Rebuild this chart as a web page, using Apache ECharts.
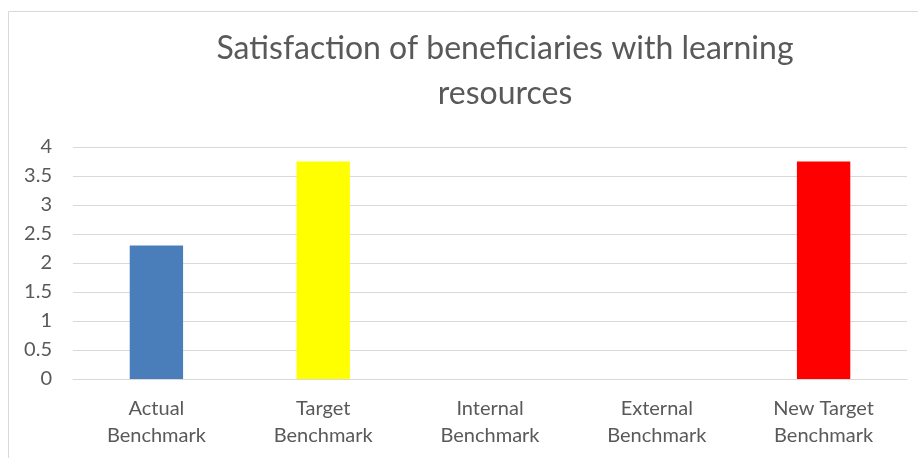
<!DOCTYPE html>
<html>
<head>
<meta charset="utf-8">
<script src="https://cdn.jsdelivr.net/npm/echarts@6/dist/echarts.min.js"></script>
<style>
  html, body { margin: 0; padding: 0; background: #fff; }
  #main { width: 918px; height: 458px; }
</style>
</head>
<body>
<div id="main"></div>
<script>
var categories = ['Actual\nBenchmark', 'Target\nBenchmark', 'Internal\nBenchmark', 'External\nBenchmark', 'New Target\nBenchmark']
var values = [2.3, 3.75, 0, 0, 3.75]
var barColors = ['#4a7ebb', '#ffff00', '#4a7ebb', '#4a7ebb', '#ff0000']
var yTicks = [0, 0.5, 1, 1.5, 2, 2.5, 3, 3.5, 4]

var myChart = echarts.init(document.getElementById('main'))

var option = {
    backgroundColor: '#fff',
    animation: false,
    title: {
        text: 'Satisfaction of beneficiaries with learning\nresources',
        left: 500,
        top: 21,
        textAlign: 'center',
        textStyle: {
            fontFamily: 'Lato',
            fontWeight: 'normal',
            fontSize: 32,
            lineHeight: 45,
            color: '#595959'
        }
    },
    graphic: [{
        type: 'rect',
        shape: { x: 8.5, y: 11.5, width: 1000, height: 500 },
        style: { fill: 'none', stroke: '#d9d9d9', lineWidth: 1 },
        silent: true
    }],
    grid: { left: 73, right: 11, top: 147, bottom: 79 },
    xAxis: {
        type: 'category',
        data: categories,
        axisLine: { show: true, lineStyle: { color: '#d9d9d9' } },
        axisTick: { show: false },
        axisLabel: {
            fontFamily: 'Lato',
            fontSize: 20,
            lineHeight: 27,
            color: '#595959',
            margin: 16,
            interval: 0
        }
    },
    yAxis: {
        type: 'value',
        min: yTicks[0],
        max: yTicks[yTicks.length - 1],
        interval: 0.5,
        axisLine: { show: false },
        axisTick: { show: false },
        splitLine: { lineStyle: { color: '#d9d9d9', width: 1 } },
        axisLabel: {
            fontFamily: 'Lato',
            fontSize: 20,
            color: '#595959',
            margin: 21
        }
    },
    series: [{
        type: 'bar',
        barWidth: '32%',
        data: values.map(function (v, i) {
            return { value: v, itemStyle: { color: barColors[i] } }
        })
    }]
}

myChart.setOption(option)
</script>
</body>
</html>
